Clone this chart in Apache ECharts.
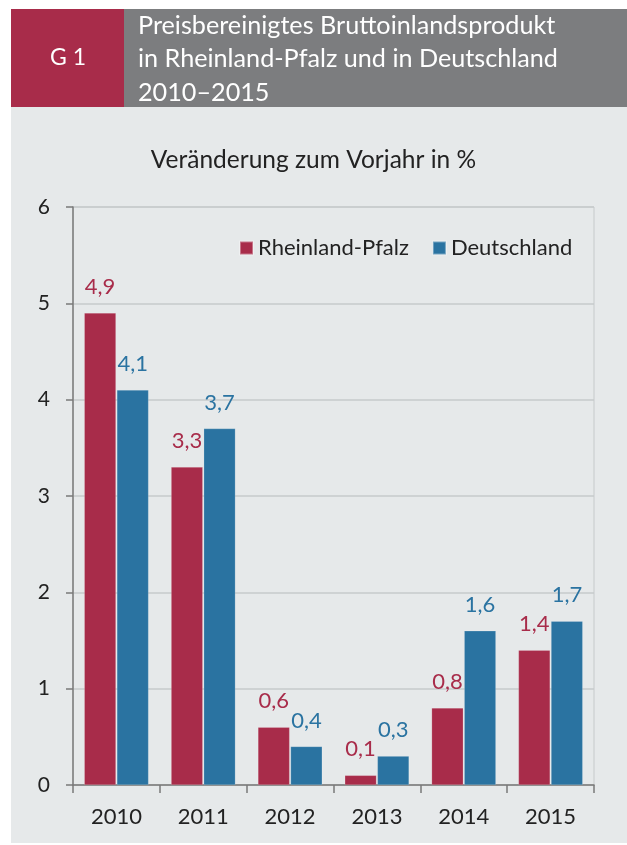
<!DOCTYPE html>
<html>
<head>
<meta charset="utf-8">
<script src="https://cdn.jsdelivr.net/npm/echarts@6/dist/echarts.min.js"></script>
<style>
  html, body { margin: 0; padding: 0; background: #ffffff; }
  #chart { width: 627px; height: 845px; }
</style>
</head>
<body>
<div id="chart"></div>
<script>
const categories = ['2010', '2011', '2012', '2013', '2014', '2015'];
const seriesNames = ['Rheinland-Pfalz', 'Deutschland'];
const rlpValues = [4.9, 3.3, 0.6, 0.1, 0.8, 1.4];
const deValues = [4.1, 3.7, 0.4, 0.3, 1.6, 1.7];
const yTicks = [0, 1, 2, 3, 4, 5, 6];
const headerCode = 'G 1';
const headerTitle = 'Preisbereinigtes Bruttoinlandsprodukt\nin Rheinland-Pfalz und in Deutschland\n2010–2015';
const subTitle = 'Veränderung zum Vorjahr in %';

const RED = '#A82C4A';
const BLUE = '#2A73A1';
const FONT = 'Lato, "Open Sans", sans-serif';

const chart = echarts.init(document.getElementById('chart'), null, { renderer: 'canvas' });

const fmt = v => String(v).replace('.', ',');

chart.setOption({
  animation: false,
  backgroundColor: '#ffffff',
  textStyle: { fontFamily: FONT },
  graphic: [
    { type: 'rect', z: -10, shape: { x: 11, y: 107, width: 616, height: 736 }, style: { fill: '#E6E9EA' } },
    { type: 'rect', z: -10, shape: { x: 11, y: 9, width: 113, height: 98 }, style: { fill: RED } },
    { type: 'rect', z: -10, shape: { x: 124, y: 9, width: 503, height: 98 }, style: { fill: '#7C7D7F' } },
    { type: 'text', left: 50, top: 46, style: { text: headerCode, fill: '#ffffff', font: '23px ' + FONT } },
    { type: 'text', left: 138, top: 9, style: { text: headerTitle, fill: '#ffffff', font: '25.2px ' + FONT, lineHeight: 33.5 } },
    { type: 'text', left: 'center', top: 148, style: { text: subTitle, fill: '#222222', font: '24.5px ' + FONT } }
  ],
  legend: {
    data: seriesNames,
    left: 234,
    top: 232,
    icon: 'rect',
    itemWidth: 13,
    itemHeight: 13,
    itemGap: 23,
    textStyle: { fontSize: 22, color: '#222222', fontFamily: FONT }
  },
  grid: {
    left: 73,
    right: 33,
    top: 207,
    bottom: 60,
    show: true,
    borderColor: '#C6CACB',
    borderWidth: 1,
    backgroundColor: 'transparent'
  },
  xAxis: {
    type: 'category',
    data: categories,
    axisLine: { lineStyle: { color: '#7A7A7A', width: 1.5 } },
    axisTick: { show: true, length: 8, lineStyle: { color: '#7A7A7A', width: 1.5 } },
    axisLabel: { fontSize: 22, color: '#222222', margin: 21, fontFamily: FONT }
  },
  yAxis: {
    type: 'value',
    min: 0,
    max: 6,
    interval: 1,
    axisLine: { show: true, lineStyle: { color: '#7A7A7A', width: 1.5 } },
    axisTick: { show: true, length: 7, lineStyle: { color: '#7A7A7A', width: 1.5 } },
    axisLabel: { fontSize: 21, color: '#222222', margin: 23, fontFamily: FONT,
      formatter: v => yTicks.includes(v) ? String(v) : '' },
    splitLine: { show: true, lineStyle: { color: '#C6CACB', width: 1.5 } }
  },
  series: [
    {
      name: seriesNames[0],
      type: 'bar',
      data: rlpValues,
      barGap: '3%',
      barCategoryGap: '26%',
      itemStyle: { color: RED, borderColor: 'rgba(255,255,255,0.35)', borderWidth: 0.5 },
      label: { show: true, position: 'top', distance: 15, color: RED, fontSize: 22, fontFamily: FONT, formatter: p => fmt(p.value) }
    },
    {
      name: seriesNames[1],
      type: 'bar',
      data: deValues,
      barGap: '3%',
      barCategoryGap: '26%',
      itemStyle: { color: BLUE, borderColor: 'rgba(255,255,255,0.35)', borderWidth: 0.5 },
      label: { show: true, position: 'top', distance: 15, color: BLUE, fontSize: 22, fontFamily: FONT, formatter: p => fmt(p.value) }
    }
  ]
});
</script>
</body>
</html>
